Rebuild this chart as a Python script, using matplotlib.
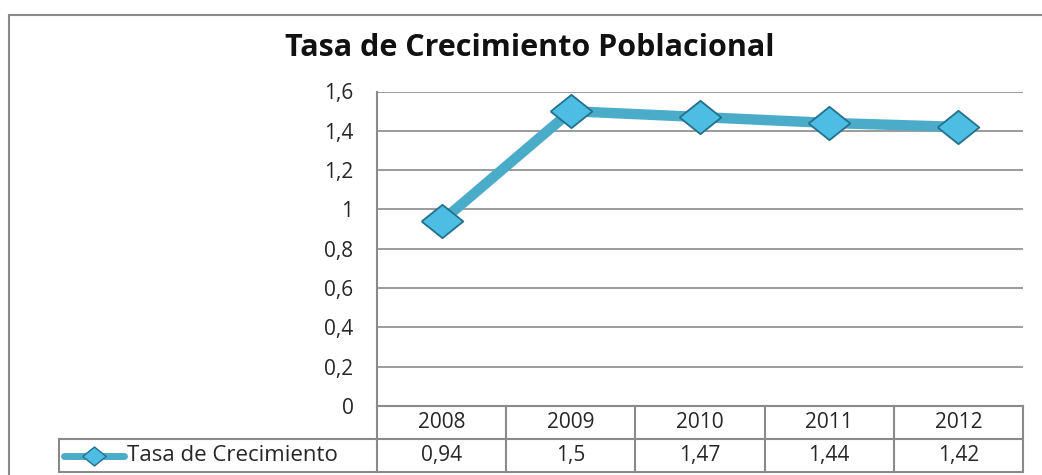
import matplotlib
matplotlib.use("Agg")
import matplotlib.pyplot as plt
from matplotlib.patches import Rectangle
from matplotlib.lines import Line2D

# datos de la serie
anios = ["2008", "2009", "2010", "2011", "2012"]
tasa = [0.94, 1.5, 1.47, 1.44, 1.42]
serie = "Tasa de Crecimiento"
titulo = "Tasa de Crecimiento Poblacional"
yticks = [0, 0.2, 0.4, 0.6, 0.8, 1, 1.2, 1.4, 1.6]

plt.rcParams['font.family'] = ['Open Sans', 'DejaVu Sans']

gris = '#8a8a8a'
texto = '#262626'
linea = '#4aacc9'
borde = '#23708c'
relleno = '#4dbde3'
# rombo algo mas ancho que alto
rombo = [(-1, 0), (0, 0.8), (1, 0), (0, -0.8), (-1, 0)]
fs = 15


def coma(v):
    return ('%g' % v).replace('.', ',')


fig = plt.figure(figsize=(10.42, 4.75), dpi=100)

# marco exterior del grafico
fig.patches.append(Rectangle((9 / 1042, -0.1), 1.1, 1 - 15 / 475 + 0.1,
                             transform=fig.transFigure, fill=False,
                             edgecolor=gris, lw=1.5))

fig.text(530 / 1042, 1 - 48 / 475, titulo, ha='center', va='center',
         fontsize=22, fontweight='bold', color='#111111')

ax = fig.add_axes([377 / 1042, 69 / 475, 646 / 1042, 314.5 / 475])
x = list(range(len(anios)))
ax.plot(x, tasa, color=linea, lw=7.5, solid_joinstyle='round', zorder=3,
        marker=rombo, markersize=30, markerfacecolor=relleno,
        markeredgecolor=borde, markeredgewidth=1.3)

ax.set_xlim(-0.5, len(anios) - 0.5)
ax.set_ylim(0, 1.6)
ax.set_yticks(yticks)
ax.set_yticklabels([coma(v) for v in yticks], fontsize=fs, color=texto)
ax.tick_params(axis='y', length=0, pad=17)
ax.set_xticks([])
ax.grid(axis='y', color=gris, lw=1.2)
ax.set_axisbelow(True)
for s in ['top', 'right', 'bottom']:
    ax.spines[s].set_visible(False)
ax.spines['left'].set_color(gris)
ax.spines['left'].set_linewidth(1.5)

# tabla de datos bajo el eje
alto = 33 / 314.5 * 1.6
kw = dict(color=gris, lw=1.5, clip_on=False)
for f in [0, 1, 2]:
    ax.plot([-0.5, len(anios) - 0.5], [-f * alto] * 2, **kw)
for c in range(len(anios) + 1):
    ax.plot([c - 0.5, c - 0.5], [0, -2 * alto], **kw)
izq = -0.5 - (377 - 59) / 129.2
ax.plot([izq, -0.5], [-alto] * 2, **kw)
ax.plot([izq, -0.5], [-2 * alto] * 2, **kw)
ax.plot([izq, izq], [-alto, -2 * alto], **kw)

for i, a in enumerate(anios):
    ax.text(i, -0.5 * alto, a, ha='center', va='center', fontsize=fs,
            color=texto, clip_on=False)
    ax.text(i, -1.5 * alto, coma(tasa[i]), ha='center', va='center',
            fontsize=fs, color=texto, clip_on=False)

# clave de la serie
ym = -1.5 * alto
ax.add_line(Line2D([izq + 0.04, izq + 0.5], [ym, ym], color=linea, lw=5,
                   solid_capstyle='round', clip_on=False))
ax.plot([izq + 0.27], [ym], marker=rombo, markersize=17, color=relleno,
        markeredgecolor=borde, markeredgewidth=1, clip_on=False)
ax.text(izq + 0.53, ym, serie, ha='left', va='center', fontsize=fs + 1,
        color=texto, clip_on=False)

fig.savefig('out.png', dpi=100)
